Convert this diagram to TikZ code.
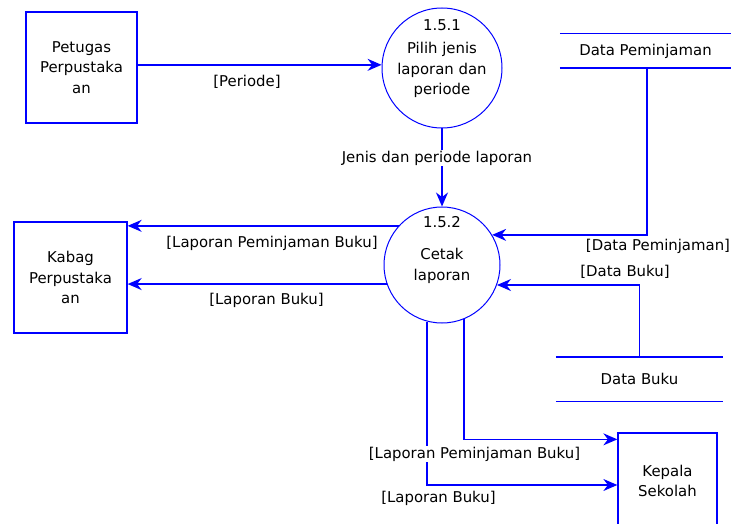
\documentclass[tikz,border=0pt]{standalone}
\usepackage{fontspec}
\setmainfont{DejaVu Sans}
\usepackage{tikz}
\usetikzlibrary{arrows.meta}

\begin{document}
\begin{tikzpicture}[x=1pt,y=-1pt,
        every node/.style={font=\fontsize{14.9}{20.5}\selectfont,align=center,inner sep=1pt},
        entitas/.style={draw=blue,line width=1.3pt,minimum width=#1,minimum height=111pt},
        proses/.style={draw=blue,line width=1pt,circle,minimum size=#1},
        simpan/.style={minimum width=#1},
        garis/.style={draw=blue,line width=1.4pt},
        alir/.style={garis,-{Stealth[length=14pt,width=12pt]}},
        ket/.style={fill=white}]
        \useasboundingbox (0,0) rectangle (734,524);

        \node[entitas=111pt] (petugas) at (81.5,67.5) {Petugas\\Perpustaka\\an};
        \node[entitas=113pt] (kabag) at (70.5,277.5) {Kabag\\Perpustaka\\an};
        \node[entitas=99pt,minimum height=96pt] (kepala) at (667.5,481) {Kepala\\Sekolah};

        \node[proses=120pt] (pilih) at (442,68) {};
        \node (pilihno) at ([yshift=43pt]pilih.center) {1.5.1};
        \node (pilihisi) at ([yshift=-2pt]pilih.center) {Pilih jenis\\laporan dan\\periode};

        \node[proses=116pt] (cetak) at (442,265) {};
        \node (cetakno) at ([yshift=43pt]cetak.center) {1.5.2};
        \node (cetakisi) at ([yshift=-1pt]cetak.center) {Cetak\\laporan};

        \node[simpan=171pt,minimum height=34pt] (dpinjam) at (645.5,51) {Data Peminjaman};
        \node[simpan=167pt,minimum height=44pt] (dbuku) at (639.5,379) {Data Buku};
        \draw[garis] (dpinjam.north west) -- (dpinjam.north east)
            (dpinjam.south west) -- (dpinjam.south east);
        \draw[garis] (dbuku.north west) -- (dbuku.north east)
            (dbuku.south west) -- (dbuku.south east);

        \draw[alir] (petugas.east |- pilih.177) -- (pilih.177);
        \draw[alir] (pilih.south) -- (cetak.north);
        \draw[alir] (cetak.138) -- (cetak.138 -| kabag.east);
        \draw[alir] (cetak.199) -- (cetak.199 -| kabag.east);
        \draw[alir] ([xshift=1.5pt]dpinjam.south) |- (cetak.31);
        \draw[alir] (dbuku.north) |- (cetak.-20);
        \draw[alir] (cetak.-68) |- ([yshift=-7pt]kepala.north west);
        \draw[alir] (cetak.255) |- ([yshift=-4pt]kepala.west);

        \node[ket] (kperiode) at (247,82) {[Periode]};
        \node[ket] (kjenis) at (437,158) {Jenis dan periode laporan};
        \node[ket] (klpb1) at (272,243) {[Laporan Peminjaman Buku]};
        \node[ket] (klb1) at (266.5,300) {[Laporan Buku]};
        \node[ket] (kdpinjam) at (658,246) {[Data Peminjaman]};
        \node[ket] (kdbuku) at (625,272) {[Data Buku]};
        \node[ket] (klpb2) at (474.5,454) {[Laporan Peminjaman Buku]};
        \node[ket] (klb2) at (438.5,498) {[Laporan Buku]};
    \end{tikzpicture}
\end{document}
